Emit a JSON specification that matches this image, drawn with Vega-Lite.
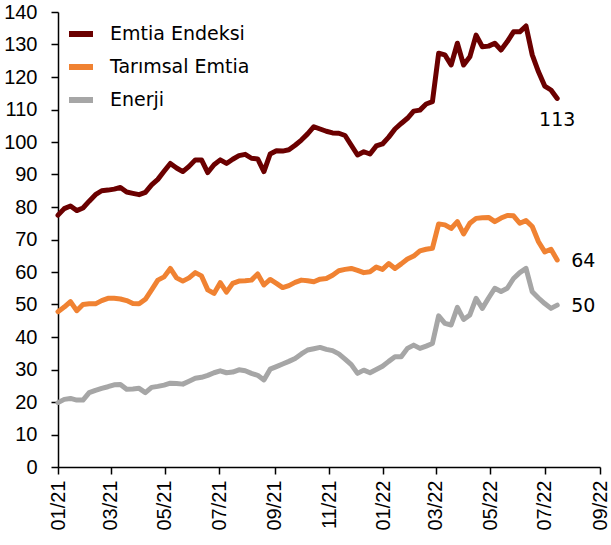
{
"$schema": "https://vega.github.io/schema/vega-lite/v6.json",
"width": 542, "height": 455,
"autosize": {"type": "none"},
"padding": {"left": 58, "top": 12, "right": 11, "bottom": 78},
"background": "white",
"config": {
  "view": {"stroke": null},
  "axis": {"grid": false, "domainColor": "black", "tickColor": "black", "labelColor": "black", "labelFont": "Liberation Sans", "labelFontSize": 20, "domainWidth": 1.5, "tickWidth": 1.5, "tickSize": 7, "title": null}
},
"data": {"values": [
{"d":"2021-01-01","Emtia Endeksi":77.5,"Tarımsal Emtia":47.8,"Enerji":19.8},
{"d":"2021-01-08","Emtia Endeksi":79.5,"Tarımsal Emtia":49.2,"Enerji":20.8},
{"d":"2021-01-15","Emtia Endeksi":80.3,"Tarımsal Emtia":50.9,"Enerji":21.1},
{"d":"2021-01-22","Emtia Endeksi":78.9,"Tarımsal Emtia":48.1,"Enerji":20.6},
{"d":"2021-01-29","Emtia Endeksi":79.7,"Tarımsal Emtia":50.0,"Enerji":20.6},
{"d":"2021-02-05","Emtia Endeksi":81.8,"Tarımsal Emtia":50.2,"Enerji":22.9},
{"d":"2021-02-12","Emtia Endeksi":83.8,"Tarımsal Emtia":50.2,"Enerji":23.6},
{"d":"2021-02-19","Emtia Endeksi":85.0,"Tarımsal Emtia":51.2,"Enerji":24.2},
{"d":"2021-02-26","Emtia Endeksi":85.2,"Tarımsal Emtia":51.9,"Enerji":24.7},
{"d":"2021-03-05","Emtia Endeksi":85.5,"Tarımsal Emtia":51.9,"Enerji":25.3},
{"d":"2021-03-12","Emtia Endeksi":86.0,"Tarımsal Emtia":51.7,"Enerji":25.4},
{"d":"2021-03-19","Emtia Endeksi":84.6,"Tarımsal Emtia":51.2,"Enerji":23.9},
{"d":"2021-03-26","Emtia Endeksi":84.2,"Tarımsal Emtia":50.3,"Enerji":24.0},
{"d":"2021-04-02","Emtia Endeksi":83.8,"Tarımsal Emtia":50.2,"Enerji":24.2},
{"d":"2021-04-09","Emtia Endeksi":84.5,"Tarımsal Emtia":51.6,"Enerji":22.9},
{"d":"2021-04-16","Emtia Endeksi":86.8,"Tarımsal Emtia":54.5,"Enerji":24.5},
{"d":"2021-04-23","Emtia Endeksi":88.5,"Tarımsal Emtia":57.5,"Enerji":24.8},
{"d":"2021-04-30","Emtia Endeksi":91.0,"Tarımsal Emtia":58.5,"Enerji":25.2},
{"d":"2021-05-07","Emtia Endeksi":93.4,"Tarımsal Emtia":61.1,"Enerji":25.8},
{"d":"2021-05-14","Emtia Endeksi":92.0,"Tarımsal Emtia":58.2,"Enerji":25.7},
{"d":"2021-05-21","Emtia Endeksi":90.9,"Tarımsal Emtia":57.2,"Enerji":25.5},
{"d":"2021-05-28","Emtia Endeksi":92.5,"Tarımsal Emtia":58.2,"Enerji":26.4},
{"d":"2021-06-04","Emtia Endeksi":94.5,"Tarımsal Emtia":59.8,"Enerji":27.3},
{"d":"2021-06-11","Emtia Endeksi":94.5,"Tarımsal Emtia":58.8,"Enerji":27.6},
{"d":"2021-06-18","Emtia Endeksi":90.6,"Tarımsal Emtia":54.5,"Enerji":28.2},
{"d":"2021-06-25","Emtia Endeksi":93.0,"Tarımsal Emtia":53.4,"Enerji":29.0},
{"d":"2021-07-02","Emtia Endeksi":94.5,"Tarımsal Emtia":56.7,"Enerji":29.6},
{"d":"2021-07-09","Emtia Endeksi":93.4,"Tarımsal Emtia":53.8,"Enerji":29.0},
{"d":"2021-07-16","Emtia Endeksi":94.7,"Tarımsal Emtia":56.5,"Enerji":29.2},
{"d":"2021-07-23","Emtia Endeksi":95.8,"Tarımsal Emtia":57.2,"Enerji":29.9},
{"d":"2021-07-30","Emtia Endeksi":96.2,"Tarımsal Emtia":57.3,"Enerji":29.6},
{"d":"2021-08-06","Emtia Endeksi":95.0,"Tarımsal Emtia":57.5,"Enerji":28.8},
{"d":"2021-08-13","Emtia Endeksi":94.8,"Tarımsal Emtia":59.4,"Enerji":28.2},
{"d":"2021-08-20","Emtia Endeksi":90.9,"Tarımsal Emtia":56.0,"Enerji":26.8},
{"d":"2021-08-27","Emtia Endeksi":96.3,"Tarımsal Emtia":57.7,"Enerji":30.1},
{"d":"2021-09-03","Emtia Endeksi":97.3,"Tarımsal Emtia":56.5,"Enerji":30.9},
{"d":"2021-09-10","Emtia Endeksi":97.2,"Tarımsal Emtia":55.2,"Enerji":31.7},
{"d":"2021-09-17","Emtia Endeksi":97.6,"Tarımsal Emtia":55.8,"Enerji":32.5},
{"d":"2021-09-24","Emtia Endeksi":99.0,"Tarımsal Emtia":56.8,"Enerji":33.4},
{"d":"2021-10-01","Emtia Endeksi":100.6,"Tarımsal Emtia":57.5,"Enerji":34.8},
{"d":"2021-10-08","Emtia Endeksi":102.5,"Tarımsal Emtia":57.3,"Enerji":36.0},
{"d":"2021-10-15","Emtia Endeksi":104.7,"Tarımsal Emtia":57.0,"Enerji":36.4},
{"d":"2021-10-22","Emtia Endeksi":104.0,"Tarımsal Emtia":57.8,"Enerji":36.8},
{"d":"2021-10-29","Emtia Endeksi":103.3,"Tarımsal Emtia":58.0,"Enerji":36.2},
{"d":"2021-11-05","Emtia Endeksi":102.8,"Tarımsal Emtia":59.0,"Enerji":35.8},
{"d":"2021-11-12","Emtia Endeksi":102.7,"Tarımsal Emtia":60.4,"Enerji":34.8},
{"d":"2021-11-19","Emtia Endeksi":102.0,"Tarımsal Emtia":60.8,"Enerji":33.2},
{"d":"2021-11-26","Emtia Endeksi":99.0,"Tarımsal Emtia":61.1,"Enerji":31.5},
{"d":"2021-12-03","Emtia Endeksi":96.0,"Tarımsal Emtia":60.5,"Enerji":28.8},
{"d":"2021-12-10","Emtia Endeksi":97.0,"Tarımsal Emtia":59.8,"Enerji":29.8},
{"d":"2021-12-17","Emtia Endeksi":96.3,"Tarımsal Emtia":60.1,"Enerji":29.0},
{"d":"2021-12-24","Emtia Endeksi":98.8,"Tarımsal Emtia":61.5,"Enerji":30.0},
{"d":"2021-12-31","Emtia Endeksi":99.4,"Tarımsal Emtia":60.8,"Enerji":31.0},
{"d":"2022-01-07","Emtia Endeksi":101.5,"Tarımsal Emtia":62.6,"Enerji":32.5},
{"d":"2022-01-14","Emtia Endeksi":104.0,"Tarımsal Emtia":61.1,"Enerji":33.9},
{"d":"2022-01-21","Emtia Endeksi":105.7,"Tarımsal Emtia":62.5,"Enerji":33.9},
{"d":"2022-01-28","Emtia Endeksi":107.3,"Tarımsal Emtia":64.0,"Enerji":36.5},
{"d":"2022-02-04","Emtia Endeksi":109.5,"Tarımsal Emtia":64.9,"Enerji":37.5},
{"d":"2022-02-11","Emtia Endeksi":109.8,"Tarımsal Emtia":66.5,"Enerji":36.5},
{"d":"2022-02-18","Emtia Endeksi":111.7,"Tarımsal Emtia":67.0,"Enerji":37.2},
{"d":"2022-02-25","Emtia Endeksi":112.4,"Tarımsal Emtia":67.3,"Enerji":38.0},
{"d":"2022-03-04","Emtia Endeksi":127.3,"Tarımsal Emtia":74.8,"Enerji":46.5},
{"d":"2022-03-11","Emtia Endeksi":126.8,"Tarımsal Emtia":74.5,"Enerji":44.2},
{"d":"2022-03-18","Emtia Endeksi":123.7,"Tarımsal Emtia":73.4,"Enerji":43.7},
{"d":"2022-03-25","Emtia Endeksi":130.4,"Tarımsal Emtia":75.5,"Enerji":49.1},
{"d":"2022-04-01","Emtia Endeksi":123.7,"Tarımsal Emtia":71.7,"Enerji":45.4},
{"d":"2022-04-08","Emtia Endeksi":126.2,"Tarımsal Emtia":75.0,"Enerji":46.8},
{"d":"2022-04-15","Emtia Endeksi":132.9,"Tarımsal Emtia":76.5,"Enerji":51.9},
{"d":"2022-04-22","Emtia Endeksi":129.3,"Tarımsal Emtia":76.7,"Enerji":48.8},
{"d":"2022-04-29","Emtia Endeksi":129.5,"Tarımsal Emtia":76.8,"Enerji":52.0},
{"d":"2022-05-06","Emtia Endeksi":130.4,"Tarımsal Emtia":75.5,"Enerji":55.0},
{"d":"2022-05-13","Emtia Endeksi":128.3,"Tarımsal Emtia":76.6,"Enerji":54.0},
{"d":"2022-05-20","Emtia Endeksi":130.9,"Tarımsal Emtia":77.4,"Enerji":55.0},
{"d":"2022-05-27","Emtia Endeksi":133.9,"Tarımsal Emtia":77.3,"Enerji":58.0},
{"d":"2022-06-03","Emtia Endeksi":133.9,"Tarımsal Emtia":75.0,"Enerji":59.8},
{"d":"2022-06-10","Emtia Endeksi":135.7,"Tarımsal Emtia":75.8,"Enerji":61.1},
{"d":"2022-06-17","Emtia Endeksi":126.8,"Tarımsal Emtia":74.0,"Enerji":53.9},
{"d":"2022-06-24","Emtia Endeksi":121.6,"Tarımsal Emtia":69.3,"Enerji":52.0},
{"d":"2022-07-01","Emtia Endeksi":117.2,"Tarımsal Emtia":66.2,"Enerji":50.3},
{"d":"2022-07-08","Emtia Endeksi":116.0,"Tarımsal Emtia":67.0,"Enerji":48.8},
{"d":"2022-07-15","Emtia Endeksi":113.4,"Tarımsal Emtia":63.7,"Enerji":49.8}
]},
"transform": [{"fold": ["Emtia Endeksi", "Tarımsal Emtia", "Enerji"], "as": ["s", "v"]}],
"encoding": {
  "x": {"field": "d", "type": "temporal",
        "scale": {"domain": [{"year": 2021, "month": 1, "date": 1}, {"year": 2022, "month": 9, "date": 1}]},
        "axis": {"tickCount": {"interval": "month", "step": 2}, "format": "%m/%y", "labelAngle": -90, "labelPadding": 6}},
  "y": {"field": "v", "type": "quantitative",
        "scale": {"domain": [0, 140], "nice": false},
        "axis": {"values": [0,10,20,30,40,50,60,70,80,90,100,110,120,130,140], "labelPadding": 14}}
},
"layer": [
  {"mark": {"type": "line", "strokeWidth": 5, "strokeJoin": "round", "strokeCap": "round"},
   "encoding": {
     "color": {"field": "s", "type": "nominal",
       "scale": {"domain": ["Emtia Endeksi", "Tarımsal Emtia", "Enerji"], "range": ["#6B0000", "#F08232", "#A6A6A6"]},
       "legend": {"orient": "none", "legendX": 8, "legendY": 7, "title": null, "padding": 0,
         "symbolType": "stroke", "symbolStrokeWidth": 6, "symbolSize": 576, "labelFont": "DejaVu Sans", "labelFontSize": 19,
         "labelColor": "black", "labelOffset": 14, "rowPadding": 6}}
   }},
  {"transform": [{"filter": "datum.d >= toDate('2022-07-14') && datum.s == 'Emtia Endeksi'"}],
   "mark": {"type": "text", "font": "DejaVu Sans", "fontSize": 19, "color": "black", "align": "center", "baseline": "middle", "dy": 22},
   "encoding": {"text": {"field": "v", "type": "quantitative", "format": ".0f"}}},
  {"transform": [{"filter": "datum.d >= toDate('2022-07-14') && datum.s != 'Emtia Endeksi'"}],
   "mark": {"type": "text", "font": "DejaVu Sans", "fontSize": 19, "color": "black", "align": "left", "baseline": "middle", "dx": 14, "dy": 1},
   "encoding": {"text": {"field": "v", "type": "quantitative", "format": ".0f"}}}
]
}
